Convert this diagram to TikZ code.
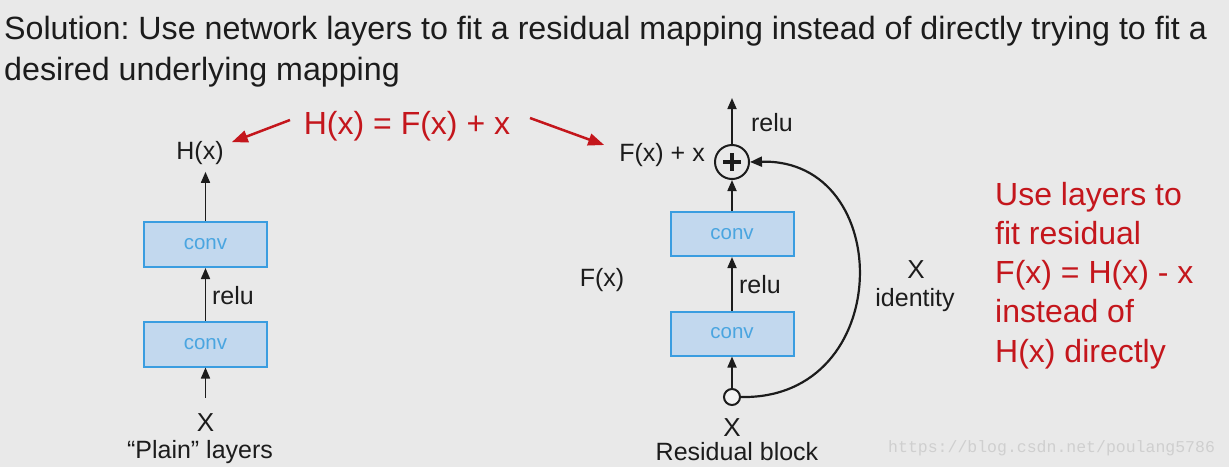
\documentclass[tikz,border=0pt]{standalone}
\usepackage{fontspec}
\setmainfont{Liberation Sans}
\newfontfamily\wmfont{Liberation Mono}
\usetikzlibrary{arrows.meta,calc}
\definecolor{bg}{HTML}{E9E9E9}
\definecolor{txt}{HTML}{1C1C1C}
\definecolor{redt}{HTML}{C4161C}
\definecolor{boxfill}{HTML}{C2D8EE}
\definecolor{boxline}{HTML}{3A9DE0}
\definecolor{boxtext}{HTML}{4AA5E0}
\definecolor{wm}{HTML}{CFCFCF}
\frenchspacing
\begin{document}
\begin{tikzpicture}[x=1pt,y=-1pt,
  convbox/.style={draw=boxline, fill=boxfill, line width=2pt, minimum width=123pt, minimum height=45pt, inner sep=0pt, text=boxtext, font=\fontsize{20.5}{24}\selectfont},
  lbl/.style={text=txt, font=\fontsize{25}{30}\selectfont, inner sep=0pt},
  biglbl/.style={text=txt, font=\fontsize{26}{30}\selectfont, inner sep=0pt},
  flow/.style={draw=txt, line width=1.7pt, -{Triangle[length=11pt,width=9pt]}},
  redarrow/.style={draw=redt, line width=2.5pt, -{Triangle[length=16pt,width=12pt]}},
  ]
\fill[bg] (0,0) rectangle (1229,467);
\useasboundingbox (0,0) rectangle (1229,467);

% title
\node[anchor=base west, inner sep=0pt, align=left, text=txt, font=\fontsize{32.2}{41}\selectfont] (title) at (4,80)
  {Solution: Use network layers to fit a residual mapping instead of directly trying to fit a\\desired underlying mapping};

% equation
\node[text=redt, font=\fontsize{32}{38}\selectfont, inner sep=0pt] (eq) at (407,126) {H(x) = F(x) + x};

% plain layers
\node[lbl] (hx) at (200,153) {H(x)};
\node[convbox] (c1) at (205.5,244.5) {conv};
\node[convbox] (c2) at (205.5,344) {conv};
\node[lbl] (relu1) at (233,296) {relu};
\node[biglbl] (x1) at (205.5,423) {X};
\node[lbl] (plain) at (200,452) {“Plain” layers};
\draw[flow, shorten <=16pt] (c2.south |- x1.north) -- (c2.south);
\draw[flow] (c2.north) -- (c1.south);
\draw[flow, shorten >=7pt] (c1.north) -- (c1.north |- hx.south);

% residual block
\node[circle, draw=txt, line width=2pt, minimum size=34pt, inner sep=0pt] (plus) at (732,162) {};
\draw[txt, line width=4pt] ($(plus.center)+(-9,0)$) -- ($(plus.center)+(9,0)$);
\draw[txt, line width=4pt] ($(plus.center)+(0,-9)$) -- ($(plus.center)+(0,9)$);
\node[lbl, anchor=east] (fxx) at (705,155) {F(x) + x};
\coordinate (out) at (732,98);
\node[lbl] (relu3) at (772,123) {relu};
\node[convbox, minimum height=44pt] (c3) at (732,234) {conv};
\node[convbox, minimum height=44pt] (c4) at (732,333.5) {conv};
\node[lbl] (fx) at (602,280) {F(x)};
\node[lbl] (relu2) at (760,285) {relu};
\node[circle, draw=txt, fill=bg!60!white, line width=2pt, minimum size=16pt, inner sep=0pt] (xin) at (732,397) {};
\node[biglbl] (x2) at (732,428) {X};
\node[lbl] (res) at (737,452) {Residual block};
\node[biglbl] (xid) at (916,270) {X};
\node[lbl] (ident) at (915,300) {identity};

\draw[flow] (plus.north) -- (out);
\draw[flow] (xin.north) -- (c4.south);
\draw[flow] (c4.north) -- (c3.south);
\draw[flow] (c3.north) -- (plus.south);
\draw[draw=txt, line width=2.2pt, -{Triangle[length=12pt,width=10pt]}] (xin.east) .. controls (896,400) and (896,158) .. (plus.east);

% red arrows
\coordinate (eqL) at (290,120);
\coordinate (eqR) at (530,118);
\draw[redarrow] (eqL) -- ($(hx.north east)+(8,1)$);
\draw[redarrow] (eqR) -- ($(fxx.west)+(-15,-10)$);

% note
\node[anchor=base west, align=left, text=redt, font=\fontsize{32}{39.25}\selectfont, inner sep=0pt] (note) at (995,362)
  {Use layers to\\fit residual\\F(x) = H(x) - x\\instead of\\H(x) directly};

% watermark
\node[anchor=base west, text=wm, font=\wmfont\fontsize{16.5}{20}\selectfont, inner sep=0pt] (wmark) at (888,452) {https://blog.csdn.net/poulang5786};
\end{tikzpicture}
\end{document}
